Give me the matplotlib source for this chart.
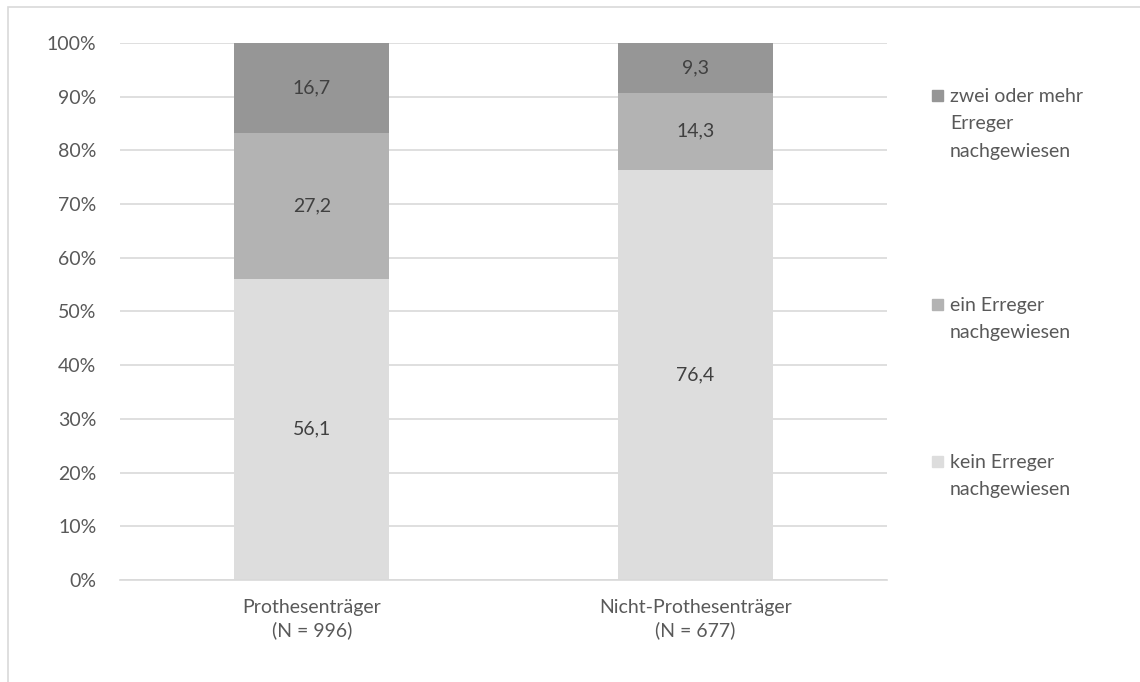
import matplotlib.pyplot as plt
from matplotlib.patches import Rectangle
from matplotlib.ticker import PercentFormatter

categories = ['Prothesenträger\n(N = 996)', 'Nicht-Prothesenträger\n(N = 677)']
series = ['kein Erreger\nnachgewiesen', 'ein Erreger\nnachgewiesen',
          'zwei oder mehr\nErreger\nnachgewiesen']
values = [[56.1, 76.4], [27.2, 14.3], [16.7, 9.3]]
colors = ['#dddddd', '#b3b3b3', '#969696']
yticks = list(range(0, 101, 10))

plt.rcParams['font.family'] = ['Lato', 'DejaVu Sans']
text_color = '#595959'
fs = 14

fig = plt.figure(figsize=(11.4, 6.82), dpi=100)
ax = fig.add_axes([0.1053, 0.1496, 0.6728, 0.7874])

# outer frame, only top and left visible in the picture
fig.patches.append(Rectangle((8 / 1140, -0.05), 1.1, 0.05 + 675 / 682,
                             transform=fig.transFigure, fill=False,
                             edgecolor='#d9d9d9', linewidth=1.2))

x = range(len(categories))
bottom = [0, 0]
for vals, col in zip(values, colors):
    ax.bar(x, vals, bottom=bottom, width=0.405, color=col, zorder=2)
    for xi, v, b in zip(x, vals, bottom):
        ax.text(xi, b + v / 2, f'{v:.1f}'.replace('.', ','), ha='center',
                va='center', fontsize=fs, color='#404040', zorder=3)
    bottom = [b + v for b, v in zip(bottom, vals)]

ax.set_xlim(-0.5, 1.5)
ax.set_ylim(0, 100)
ax.set_yticks(yticks)
ax.yaxis.set_major_formatter(PercentFormatter(decimals=0))
ax.set_xticks(list(x))
ax.set_xticklabels(categories, linespacing=1.3)
ax.tick_params(axis='both', length=0, labelsize=fs, labelcolor=text_color)
ax.tick_params(axis='x', pad=14)
ax.tick_params(axis='y', pad=17)
ax.grid(axis='y', color='#d9d9d9', linewidth=1.2, zorder=0)
for s in ['top', 'right', 'left']:
    ax.spines[s].set_visible(False)
ax.spines['bottom'].set_color('#d9d9d9')
ax.spines['bottom'].set_linewidth(1.2)

# legend, positioned like the original
legend_y = [96, 305, 462]
for lab, col, ly in zip(series[::-1], colors[::-1], legend_y):
    fig.patches.append(Rectangle((932 / 1140, 1 - (ly + 5) / 682), 11 / 1140, 11 / 682,
                                 transform=fig.transFigure, color=col))
    fig.text(950 / 1140, 1 - (ly - 8) / 682, lab, ha='left', va='top',
             fontsize=fs, color=text_color, linespacing=1.74)

fig.savefig('out.png', dpi=100)
